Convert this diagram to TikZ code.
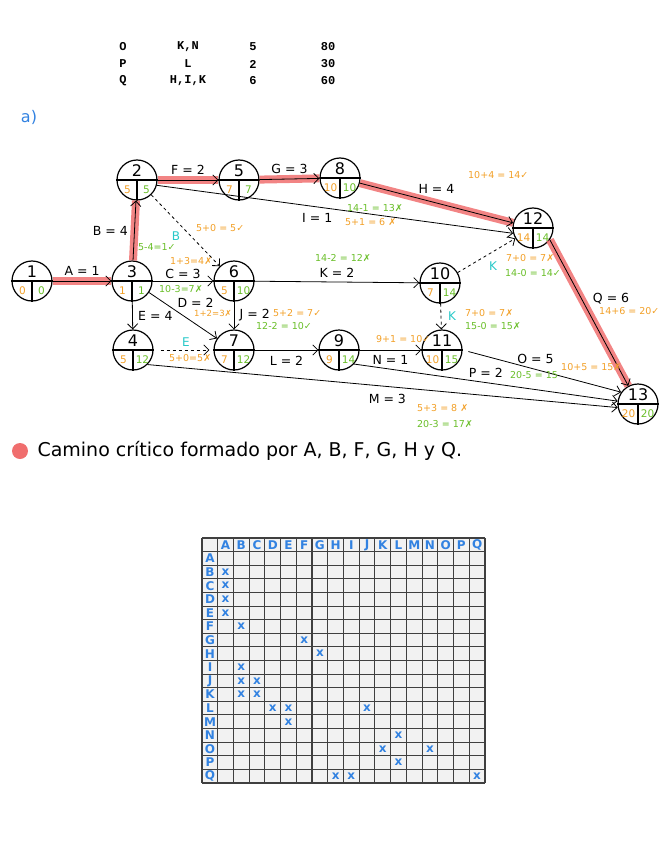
\documentclass[tikz,border=0pt]{standalone}
\usepackage{fontspec}
\setmainfont{DejaVu Sans}
\setmonofont{Liberation Mono}
\usetikzlibrary{arrows.meta}
\definecolor{naranja}{RGB}{242,160,40}
\definecolor{verde}{RGB}{105,190,40}
\definecolor{cian}{RGB}{40,200,200}
\definecolor{azul}{RGB}{50,130,225}
\definecolor{rojo}{RGB}{240,110,110}

\begin{document}
\begin{tikzpicture}[x=1pt, y=-1pt, every node/.style={font=\fontsize{12.5}{14}\selectfont}, >={Straight Barb[length=1.8mm]},
	ev/.style={draw, circle, line width=1.2pt, minimum size=40pt, inner sep=0pt},
	crit/.style={line width=8pt, rojo, opacity=0.85},
	arco/.style={->, line width=0.8pt},
	ficticia/.style={->, dashed, line width=0.8pt},
	ini/.style={naranja, anchor=west, inner sep=0pt, font=\fontsize{9.5}{11}\selectfont},
	fin/.style={verde, anchor=west, inner sep=0pt, font=\fontsize{9.5}{11}\selectfont},
	hol/.style={cian, font=\fontsize{12}{13}\selectfont},
	tabla/.style={font=\ttfamily\bfseries\fontsize{12}{13}\selectfont},
	letra/.style={azul, font=\bfseries\fontsize{12}{13}\selectfont, inner sep=0pt}]
	\useasboundingbox (0,0) rectangle (664,848);

	% tabla de precedencias
	\foreach \act/\prec/\dur/\cost/\py in {O/{K,N}/5/80/47, P/L/2/30/64, Q/{H,I,K}/6/60/81} {
		\node[tabla] (t\act) at (123,\py) {\act};
		\node[tabla] (p\act) at (188,\py) {\prec};
		\node[tabla] (d\act) at (253,\py) {\dur};
		\node[tabla] (c\act) at (328,\py) {\cost};
	}
	\node[azul, font=\fontsize{16}{18}\selectfont] (apart) at (29,117) {a)};

	% sucesos
	\foreach \n/\px/\py/\es/\ls in {1/32/281/0/0, 2/137/180/5/5, 3/132/281/1/1, 4/133/350/5/12, 5/239/180/7/7, 6/234/281/5/10, 7/234/350/7/12, 8/340/178/10/10, 9/339/350/9/14, 10/440/283/7/14, 11/442/350/10/15, 12/533/228/14/14, 13/638/404/20/20} {
		\node[ev] (n\n) at (\px,\py) {};
		\draw[line width=1.2pt] (n\n.west) -- (n\n.east) (n\n.center) -- (n\n.south);
		\node[font=\fontsize{16}{18}\selectfont] (n\n-num) at ([yshift=9.5pt]n\n.center) {\n};
		\node[naranja, font=\fontsize{10.5}{11}\selectfont] (n\n-es) at ([shift={(-9.5pt,-9.5pt)}]n\n.center) {\es};
		\node[verde, font=\fontsize{10.5}{11}\selectfont] (n\n-ls) at ([shift={(9.5pt,-9.5pt)}]n\n.center) {\ls};
	}

	% camino critico
	\draw[crit] (n1) -- (n3);
	\draw[crit] (n3) -- (n2);
	\draw[crit] (n2) -- (n5);
	\draw[crit] (n5) -- (n8);
	\draw[crit] (n8) -- (n12);
	\draw[crit] (n12.-35) -- (n13);

	% actividades
	\draw[arco] (n1) -- (n3) node[midway, above=2pt] {A = 1};
	\draw[arco] (n3) -- (n2) node[midway, left=3pt] {B = 4};
	\draw[arco] (n2) -- (n5) node[midway, above=2pt] {F = 2};
	\draw[arco] (n5) -- (n8) node[midway, above=2pt] {G = 3};
	\draw[arco] (n8) -- (n12) node[pos=0.5, above=6pt] {H = 4};
	\draw[arco] (n12.-35) -- (n13) node[pos=0.4, right=8pt] {Q = 6};
	\draw[arco] (n2.-15) -- (n12.195) node[pos=0.45, below=3pt] {I = 1};
	\draw[arco] (n3) -- (n6) node[midway, above=-1pt] {C = 3};
	\draw[arco] (n3) -- (n7) node[pos=0.38, above right=-1pt] {D = 2};
	\draw[arco] (n3) -- (n4) node[midway, right=2pt] {E = 4};
	\draw[arco] (n6) -- (n7) node[midway, right=2pt] {J = 2};
	\draw[arco] (n6) -- (n10) node[midway, above=1pt] {K = 2};
	\draw[arco] (n7) -- (n9) node[midway, below=2pt] {L = 2};
	\draw[arco] (n9) -- (n11) node[midway, below=2pt] {N = 1};
	\draw[arco] (n4.-45) -- (n13.190) node[pos=0.51, below=4pt] {M = 3};
	\draw[arco] (n9.-43) -- (n13.172) node[pos=0.5, above=1pt] {P = 2};
	\draw[arco, shorten <=6pt] (n11.east) -- (n13.145) node[pos=0.46, above=2pt] {O = 5};
	\draw[ficticia] (n2) -- (n6);
	\draw[ficticia, shorten <=7pt, shorten >=4pt] (n4) -- (n7);
	\draw[ficticia] (n10) -- (n12);
	\draw[ficticia] (n10) -- (n11);

	% holguras
	\node[hol] (hB) at (176,236) {B};
	\node[hol] (hE) at (186,342) {E};
	\node[hol] (hK1) at (493,266) {K};
	\node[hol] (hK2) at (452,316) {K};

	\node[ini] (c1) at (468,175) {10+4 = 14✓};
	\node[ini] (c2) at (345,222) {5+1 = 6 ✗};
	\node[ini] (c3) at (196,228) {5+0 = 5✓};
	\node[ini] (c4) at (170,261) {1+3=4✗};
	\node[ini, font=\fontsize{8.5}{10}\selectfont] (c5) at (194,313) {1+2=3✗};
	\node[ini] (c6) at (169,358) {5+0=5✗};
	\node[ini] (c7) at (273,313) {5+2 = 7✓};
	\node[ini] (c8) at (376,339) {9+1 = 10✓};
	\node[ini] (c9) at (506,258) {7+0 = 7✗};
	\node[ini] (c10) at (465,313) {7+0 = 7✗};
	\node[ini] (c11) at (561,367) {10+5 = 15✗};
	\node[ini] (c12) at (417,408) {5+3 = 8 ✗};
	\node[ini] (c13) at (599,311) {14+6 = 20✓};

	\node[fin] (f1) at (138,247) {5-4=1✓};
	\node[fin] (f2) at (347,208) {14-1 = 13✗};
	\node[fin] (f3) at (159,289) {10-3=7✗};
	\node[fin] (f4) at (315,258) {14-2 = 12✗};
	\node[fin] (f5) at (256,326) {12-2 = 10✓};
	\node[fin] (f6) at (505,273) {14-0 = 14✓};
	\node[fin] (f7) at (465,326) {15-0 = 15✗};
	\node[fin] (f8) at (510,375) {20-5 = 15};
	\node[fin] (f9) at (417,424) {20-3 = 17✗};

	% leyenda
	\fill[rojo] (20,451) circle (8);
	\node[anchor=west, font=\fontsize{19}{22}\selectfont] (leyenda) at (34,451) {Camino crítico formado por A, B, F, G, H y Q.};

	% matriz de precedencias
	\fill[gray!10] (202,538) rectangle (485,783);
	\foreach \i in {0,...,18} {
		\draw[line width=1.1pt, black!75] ({202+15.72*\i},538) -- ({202+15.72*\i},783);
		\draw[line width=1.1pt, black!75] (202,{538+13.61*\i}) -- (485,{538+13.61*\i});
	}
	\foreach \l [count=\i] in {A,...,Q} {
		\node[letra] (col\l) at ({202+15.72*\i+7.86},545) {\l};
		\node[letra] (fil\l) at (210,{538+13.61*\i+6.8}) {\l};
	}
	\foreach \r/\c in {2/1, 3/1, 4/1, 5/1, 6/2, 7/6, 8/7, 9/2, 10/2, 10/3, 11/2, 11/3, 12/4, 12/5, 12/10, 13/5, 14/12, 15/11, 15/14, 16/12, 17/8, 17/9, 17/17}
		\node[letra] (x\r-\c) at ({202+15.72*\c+7.86},{538+13.61*\r+6.8}) {x};
\end{tikzpicture}
\end{document}
